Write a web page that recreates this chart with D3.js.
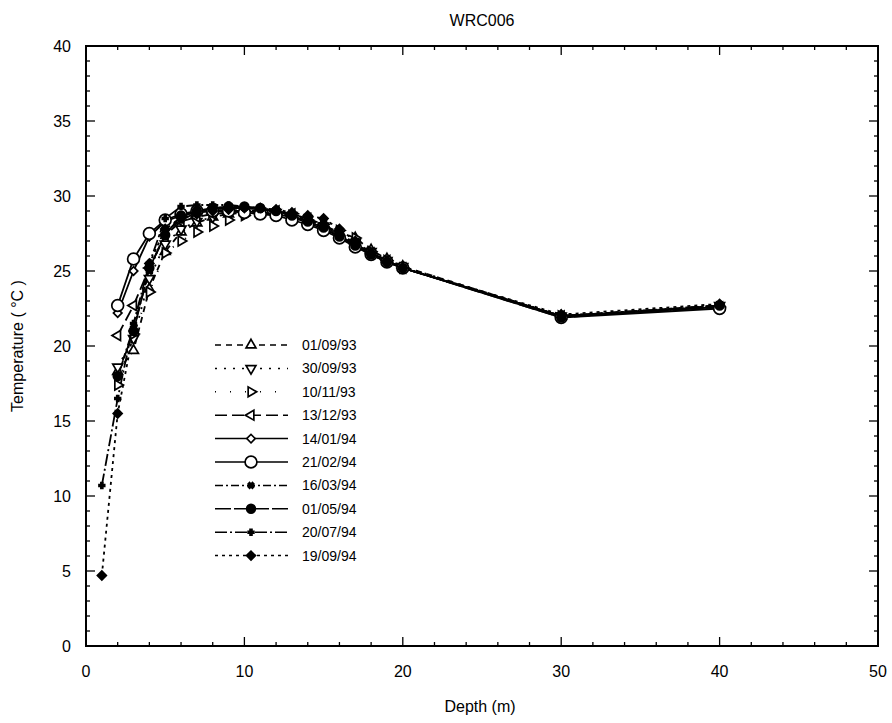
<!DOCTYPE html>
<html>
<head>
<meta charset="utf-8">
<script src="https://cdn.jsdelivr.net/npm/d3@7"></script>
<style>
  body { margin: 0; background: #fff; }
  svg { display: block; font-family: "Liberation Sans", Arial, sans-serif; }
</style>
</head>
<body>
<svg width="892" height="723"></svg>
<script>
// depths (m) shared by every survey
var depths = [2, 3, 4, 5, 6, 7, 8, 9, 10, 11, 12, 13, 14, 15, 16, 17, 18, 19, 20, 30, 40]

var dates = ['01/09/93', '30/09/93', '10/11/93', '13/12/93', '14/01/94',
  '21/02/94', '16/03/94', '01/05/94', '20/07/94', '19/09/94']

var t010993 = [18.3, 19.7, 23.8, 26.3, 27.6, 28.2, 28.6, 28.8, 28.9, 28.9, 28.8, 28.6, 28.3, 28.0, 27.6, 27.2, 26.4, 25.8, 25.3, 22.0, 22.6]
var t300993 = [18.6, 20.5, 24.5, 26.8, 27.8, 28.3, 28.6, 28.9, 29.0, 29.0, 28.9, 28.7, 28.4, 28.0, 27.5, 26.9, 26.3, 25.7, 25.3, 22.0, 22.7]
var t101193 = [17.4, 20.8, 23.6, 26.2, 27.0, 27.6, 28.0, 28.4, 28.7, 28.8, 28.8, 28.7, 28.4, 28.1, 27.7, 27.2, 26.3, 25.7, 25.2, 22.0, 22.6]
var t131293 = [20.7, 22.7, 25.2, 27.4, 28.3, 28.6, 28.8, 28.9, 29.0, 29.0, 29.0, 28.8, 28.5, 28.1, 27.5, 26.8, 26.2, 25.7, 25.2, 22.0, 22.6]
var t140194 = [22.2, 25.0, 27.3, 28.3, 28.7, 28.9, 29.0, 29.0, 29.0, 28.9, 28.8, 28.6, 28.2, 27.8, 27.3, 26.7, 26.1, 25.6, 25.2, 22.0, 22.6]
var t210294 = [22.7, 25.8, 27.5, 28.4, 28.8, 29.0, 29.0, 29.0, 28.9, 28.8, 28.7, 28.4, 28.1, 27.7, 27.2, 26.6, 26.1, 25.6, 25.2, 21.9, 22.5]
var t160394 = [18.0, 21.2, 25.0, 27.6, 28.4, 28.9, 29.1, 29.2, 29.2, 29.1, 29.0, 28.8, 28.5, 28.1, 27.5, 26.8, 26.2, 25.7, 25.2, 22.0, 22.7]
var t010594 = [18.0, 21.0, 25.2, 27.4, 28.7, 29.0, 29.2, 29.3, 29.3, 29.2, 29.0, 28.7, 28.3, 27.9, 27.3, 26.7, 26.1, 25.6, 25.2, 21.9, 22.7]
var t200794 = [16.5, 21.5, 25.5, 28.5, 29.3, 29.4, 29.4, 29.4, 29.3, 29.2, 29.0, 28.8, 28.4, 28.0, 27.4, 26.7, 26.2, 25.7, 25.2, 22.0, 22.7]
var t190994 = [15.5, 21.0, 25.5, 27.8, 28.5, 28.8, 29.0, 29.1, 29.2, 29.2, 29.1, 28.9, 28.7, 28.5, 27.8, 27.0, 26.2, 25.6, 25.2, 22.1, 22.8]

// the two 1994 surveys that also have a reading at 1 m
var surface200794 = 10.7
var surface190994 = 4.7

var xTicks = [0, 10, 20, 30, 40, 50]
var yTicks = [0, 5, 10, 15, 20, 25, 30, 35, 40]

;(function () {
  var svg = d3.select('svg')
  var left = 86, right = 878, top = 46, bottom = 646

  var x = d3.scaleLinear().domain([0, 50]).range([left, right])
  var y = d3.scaleLinear().domain([0, 40]).range([bottom, top])

  function pts (vals, surface) {
    var arr = vals.map(function (v, i) { return [depths[i], v] })
    if (surface !== undefined) arr.unshift([1, surface])
    return arr
  }

  var series = [
    { name: dates[0], data: pts(t010993), dash: '6,5', sym: 'tri', rot: 0, fill: 'none', size: 42 },
    { name: dates[1], data: pts(t300993), dash: '2,7', sym: 'tri', rot: 180, fill: 'none', size: 42 },
    { name: dates[2], data: pts(t101193), dash: '1,14', sym: 'tri', rot: 90, fill: 'none', size: 42 },
    { name: dates[3], data: pts(t131293), dash: '12,5', sym: 'tri', rot: 270, fill: 'none', size: 42 },
    { name: dates[4], data: pts(t140194), dash: null, sym: 'sq', rot: 45, fill: 'none', size: 36 },
    { name: dates[5], data: pts(t210294), dash: null, sym: 'cir', rot: 0, fill: 'none', size: 110 },
    { name: dates[6], data: pts(t160394), dash: '8,3,2,3', sym: 'cross', rot: 45, fill: '#000', size: 20 },
    { name: dates[7], data: pts(t010594), dash: '16,3', sym: 'cir', rot: 0, fill: '#000', size: 60 },
    { name: dates[8], data: pts(t200794, surface200794), dash: '12,3,2,3', sym: 'cross', rot: 0, fill: '#000', size: 18 },
    { name: dates[9], data: pts(t190994, surface190994), dash: '3,4', sym: 'sq', rot: 45, fill: '#000', size: 40 }
  ]

  var symTypes = { tri: d3.symbolTriangle, sq: d3.symbolSquare, cir: d3.symbolCircle, cross: d3.symbolCross }

  function marker (g, s, cx, cy) {
    g.append('path')
      .attr('d', d3.symbol().type(symTypes[s.sym]).size(s.size)())
      .attr('transform', 'translate(' + cx + ',' + cy + ') rotate(' + s.rot + ')')
      .style('fill', s.fill === 'none' ? '#fff' : s.fill)
      .style('stroke', '#000')
      .style('stroke-width', 1.7)
  }

  // frame
  svg.append('rect')
    .attr('x', left).attr('y', top)
    .attr('width', right - left).attr('height', bottom - top)
    .style('fill', 'none').style('stroke', '#000').style('stroke-width', 2)

  // inward ticks on all four sides
  var minorX = d3.range(0, 51, 2)
  var minorY = d3.range(0, 41, 1)
  var axes = svg.append('g').style('stroke', '#000').style('stroke-width', 1.3)
  minorX.forEach(function (d) {
    var len = d % 10 === 0 ? 9 : 4
    axes.append('line').attr('x1', x(d)).attr('x2', x(d)).attr('y1', bottom).attr('y2', bottom - len)
    axes.append('line').attr('x1', x(d)).attr('x2', x(d)).attr('y1', top).attr('y2', top + len)
  })
  minorY.forEach(function (d) {
    var len = d % 5 === 0 ? 9 : 4
    axes.append('line').attr('y1', y(d)).attr('y2', y(d)).attr('x1', left).attr('x2', left + len)
    axes.append('line').attr('y1', y(d)).attr('y2', y(d)).attr('x1', right).attr('x2', right - len)
  })

  svg.append('g').selectAll('text').data(xTicks).join('text')
    .attr('x', d => x(d)).attr('y', bottom + 31)
    .attr('text-anchor', 'middle')
    .style('font-size', '16px')
    .text(d => d)

  svg.append('g').selectAll('text').data(yTicks).join('text')
    .attr('x', left - 15).attr('y', d => y(d) + 6)
    .attr('text-anchor', 'end')
    .style('font-size', '16px')
    .text(d => d)

  svg.append('text')
    .attr('x', 482).attr('y', 26)
    .attr('text-anchor', 'middle')
    .style('font-size', '16px')
    .text('WRC006')

  svg.append('text')
    .attr('x', 480).attr('y', 712)
    .attr('text-anchor', 'middle')
    .style('font-size', '16px')
    .text('Depth (m)')

  svg.append('text')
    .attr('transform', 'translate(23,' + ((top + bottom) / 2) + ') rotate(-90)')
    .attr('text-anchor', 'middle')
    .style('font-size', '16px')
    .text('Temperature ( °C )')

  var line = d3.line().x(d => x(d[0])).y(d => y(d[1]))

  var plot = svg.append('g')
  series.forEach(function (s) {
    plot.append('path')
      .attr('d', line(s.data))
      .style('fill', 'none')
      .style('stroke', '#000')
      .style('stroke-width', 1.8)
      .style('stroke-dasharray', s.dash)
  })
  series.forEach(function (s) {
    var g = plot.append('g')
    s.data.forEach(function (d) { marker(g, s, x(d[0]), y(d[1])) })
  })

  // legend
  var leg = svg.append('g')
  series.forEach(function (s, i) {
    var ly = 345 + i * 23.4
    leg.append('line')
      .attr('x1', 215).attr('x2', 288).attr('y1', ly).attr('y2', ly)
      .style('stroke', '#000').style('stroke-width', 1.5)
      .style('stroke-dasharray', s.dash)
    marker(leg, s, 251, ly)
    leg.append('text')
      .attr('x', 302).attr('y', ly + 5)
      .style('font-size', '14px')
      .text(s.name)
  })
})()
</script>
</body>
</html>
